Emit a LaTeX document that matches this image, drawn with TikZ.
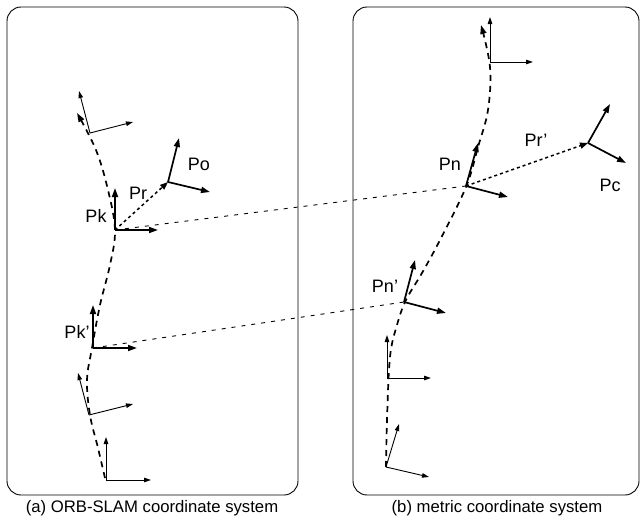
\documentclass[tikz,border=0pt]{standalone}
\usepackage{fontspec}
\setmainfont{Liberation Sans}
\usetikzlibrary{arrows.meta}
\begin{document}
\begin{tikzpicture}[x=1pt,y=-1pt,
  panel/.style={draw=black,line width=0.9pt,rounded corners=14pt},
  thinax/.style={line width=0.9pt,-{Triangle[length=7pt,width=4.5pt]}},
  thickax/.style={line width=1.7pt,-{Triangle[length=9pt,width=6pt]}},
  traj/.style={line width=1.7pt,dash pattern=on 6pt off 5pt,-{Triangle[length=9pt,width=6pt]}},
  rel/.style={line width=1.5pt,dash pattern=on 3pt off 3pt,-{Triangle[length=8pt,width=6pt]}},
  link/.style={line width=0.9pt,dash pattern=on 4pt off 6pt},
  lbl/.style={font=\fontsize{18}{21}\selectfont,inner sep=0pt},
  captext/.style={font=\fontsize{16.7}{19}\selectfont,inner sep=0pt}]
\useasboundingbox (0,0) rectangle (641,522);
\draw[panel] (7,7) rectangle (298,495);
\draw[panel] (353,7) rectangle (639,495);
% trajectories
\draw[traj] plot[smooth,tension=0.6] coordinates {(105,478) (98,448) (90,415) (87,380) (92,348) (100,305) (110,265) (115,230) (108,190) (96,150) (77,113)};
\draw[traj] plot[smooth,tension=0.6] coordinates {(386,467) (387,420) (390,357) (397,325) (406,300) (422,273) (440,240) (466,187) (478,147) (488,110) (490,67) (481,25)};
% left frames
\coordinate (A1) at (90,133);
\draw[thinax] (A1) -- (79,91);
\draw[thinax] (A1) -- (133,122);
\coordinate (Po) at (168,182);
\draw[thickax] (Po) -- (179,138);
\draw[thickax] (Po) -- (210,192);
\coordinate (Pk) at (115,230);
\draw[thickax] (Pk) -- (115,188);
\draw[thickax] (Pk) -- (158,230);
\coordinate (Pk2) at (93,348);
\draw[thickax] (Pk2) -- (93,305);
\draw[thickax] (Pk2) -- (137,348);
\coordinate (A4) at (89,415);
\draw[thinax] (A4) -- (78,373);
\draw[thinax] (A4) -- (133,404);
\coordinate (A5) at (106,480);
\draw[thinax] (A5) -- (106,437);
\draw[thinax] (A5) -- (151,480);
% right frames
\coordinate (B1) at (490,62);
\draw[thinax] (B1) -- (490,17);
\draw[thinax] (B1) -- (533,62);
\coordinate (Pn) at (466,186);
\draw[thickax] (Pn) -- (478,143);
\draw[thickax] (Pn) -- (508,197);
\coordinate (Pc) at (588,143);
\draw[thickax] (Pc) -- (610,104);
\draw[thickax] (Pc) -- (626,163);
\coordinate (Pn2) at (404,302);
\draw[thickax] (Pn2) -- (415,260);
\draw[thickax] (Pn2) -- (446,313);
\coordinate (B3) at (387,378);
\draw[thinax] (B3) -- (387,335);
\draw[thinax] (B3) -- (431,378);
\coordinate (B4) at (386,467);
\draw[thinax] (B4) -- (399,424);
\draw[thinax] (B4) -- (429,477);
% relations
\draw[rel] (Pk) -- (Po);
\draw[rel] (Pn) -- (Pc);
\draw[link] (Pk) -- (Pn);
\draw[link] (Pk2) -- (Pn2);
% labels
\node[lbl] (lPo) at (199,164) {Po};
\node[lbl] (lPr) at (138,193) {Pr};
\node[lbl] (lPk) at (96,216) {Pk};
\node[lbl] (lPk2) at (77,332) {Pk’};
\node[lbl] (lPn) at (450,164) {Pn};
\node[lbl] (lPr2) at (536,140) {Pr’};
\node[lbl] (lPc) at (610,185) {Pc};
\node[lbl] (lPn2) at (385,286) {Pn’};
\node[captext] (ca) at (152,508) {(a) ORB-SLAM coordinate system};
\node[captext] (cb) at (497,508) {(b) metric coordinate system};
\end{tikzpicture}
\end{document}
